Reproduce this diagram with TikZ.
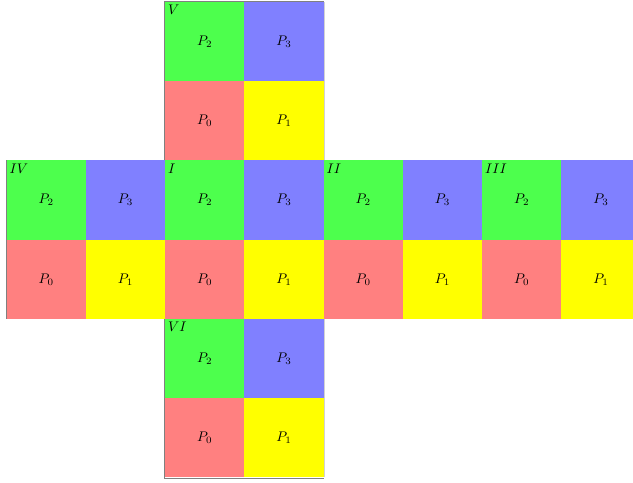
\documentclass[tikz,border=0pt]{standalone}
\begin{document}
\begin{tikzpicture}[x=2cm,y=2cm,
  edgeline/.style={draw=gray,line width=0.6pt},
  faintedge/.style={draw=gray!35,line width=0.5pt},
  cellP/.style={inner sep=0pt},
  facelabel/.style={anchor=north west,inner sep=2pt}]
\definecolor{cred}{RGB}{255,128,128}
\definecolor{cyel}{RGB}{255,255,0}
\definecolor{cgreen}{RGB}{77,255,77}
\definecolor{cblue}{RGB}{128,128,255}
\useasboundingbox (-4.165cm,-4.138cm) rectangle (11.81cm,8.05cm);
\foreach \fx/\fy/\nm in {0/2/V,-2/0/IV,0/0/I,2/0/II,4/0/III,0/-2/VI}{
  \fill[cred] (\fx,\fy) rectangle ++(1,1);
  \fill[cyel] (\fx+1,\fy) rectangle ++(1,1);
  \fill[cgreen] (\fx,\fy+1) rectangle ++(1,1);
  \fill[cblue] (\fx+1,\fy+1) rectangle ++(1,1);
  \node[cellP] (p0\nm) at (\fx+0.5,\fy+0.5) {$P_0$};
  \node[cellP] (p1\nm) at (\fx+1.5,\fy+0.5) {$P_1$};
  \node[cellP] (p2\nm) at (\fx+0.5,\fy+1.5) {$P_2$};
  \node[cellP] (p3\nm) at (\fx+1.5,\fy+1.5) {$P_3$};
  \node[facelabel] (lab\nm) at (\fx,\fy+2) {$\nm$};
}
% visible outer edges
\draw[edgeline] (-0.006,2) -- (-0.006,4.003) -- (2,4.003);
\draw[edgeline] (-2.006,0) -- (-2.006,2);
\draw[edgeline] (-0.006,0) -- (-0.006,-2.006) -- (2.003,-2.006);
\draw[faintedge] (2.004,2) -- (2.004,4);
\draw[faintedge] (2.004,0) -- (2.004,-2);
\end{tikzpicture}
\end{document}
